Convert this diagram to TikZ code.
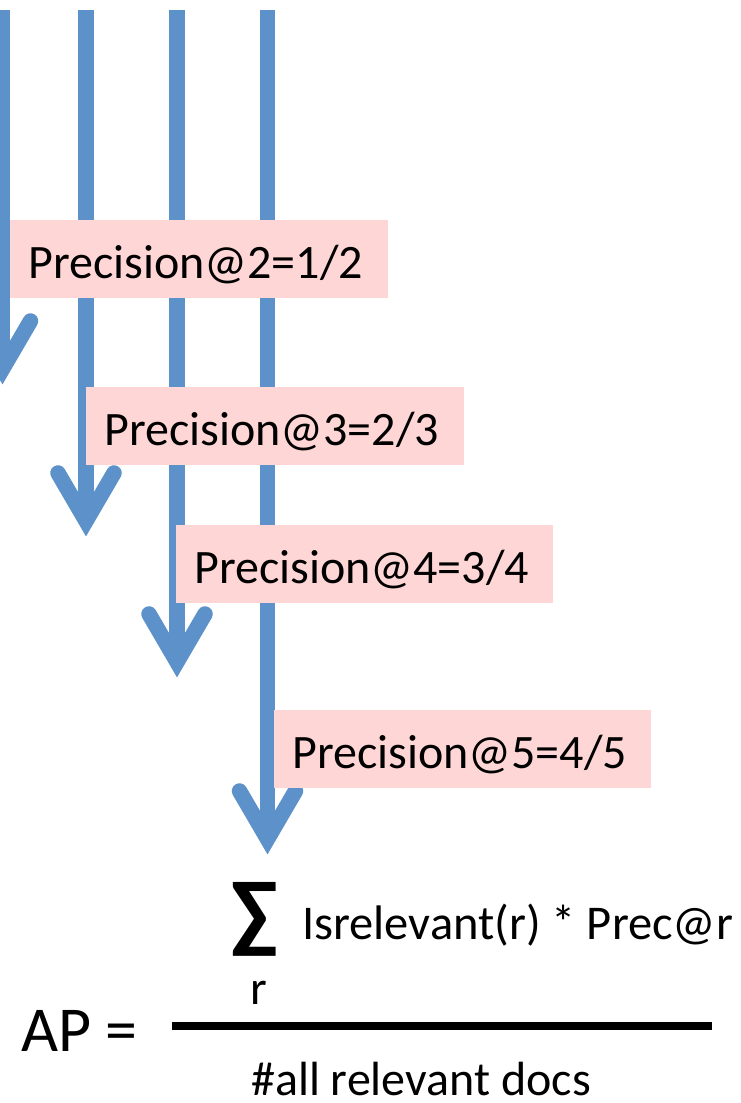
\documentclass[tikz,border=0pt]{standalone}
\usepackage{fontspec}
\setmainfont{Carlito}
\definecolor{arrowblue}{RGB}{92,146,201}
\definecolor{boxpink}{RGB}{255,214,214}
\begin{document}
\begin{tikzpicture}[x=1pt,y=-1pt,
  shaft/.style={draw=arrowblue, line width=15.5pt, line cap=butt},
  head/.style={draw=arrowblue, line width=15.5pt, line cap=round, line join=miter},
  pbox/.style={fill=boxpink, anchor=north west, inner xsep=18pt, inner ysep=0pt,
    text width=342pt, minimum height=78pt, text height=38pt, text depth=0pt,
    align=left, font=\fontsize{48pt}{58pt}\selectfont},
  ftext/.style={anchor=base west, inner sep=0pt, font=\fontsize{48pt}{58pt}\selectfont},
  fracline/.style={draw=black, line width=7.5pt}
]
\useasboundingbox (0,0) rectangle (741,1103);
% arrows
\foreach \n/\px/\py in {1/2.5/385, 2/86/537, 3/177/678, 4/267.5/855} {
  \coordinate (top\n) at (\px,10);
  \coordinate (v\n) at (\px,\py-16);
  \coordinate (la\n) at (\px-28,\py-64);
  \coordinate (ra\n) at (\px+28,\py-64);
  \draw[shaft] (top\n) -- (v\n);
  \draw[head] (la\n) -- (v\n) -- (ra\n);
}
% boxes
\node[pbox] (b1) at (10,220) {Precision@2=1/2};
\node[pbox] (b2) at (86,387) {Precision@3=2/3};
\node[pbox, text width=341pt] (b3) at (176,525) {Precision@4=3/4};
\node[pbox, text width=341pt] (b4) at (274,710) {Precision@5=4/5};
% formula
\node[ftext, font=\fontsize{64pt}{76pt}\selectfont] (ap) at (21,1051) {AP =};
\coordinate (fl) at (172,1026);
\coordinate (fr) at (712,1026);
\draw[fracline] (fl) -- (fr);
\node[inner sep=0pt, font=\fontsize{88pt}{100pt}\selectfont\bfseries] (sum) at (255,919) {∑};
\node[ftext, font=\fontsize{48.5pt}{58pt}\selectfont] (num) at (302,939) {Isrelevant(r) * Prec@r};
\node[ftext] (lim) at (250,1004) {r};
\node[ftext] (den) at (251,1095) {\#all relevant docs};
\end{tikzpicture}
\end{document}
